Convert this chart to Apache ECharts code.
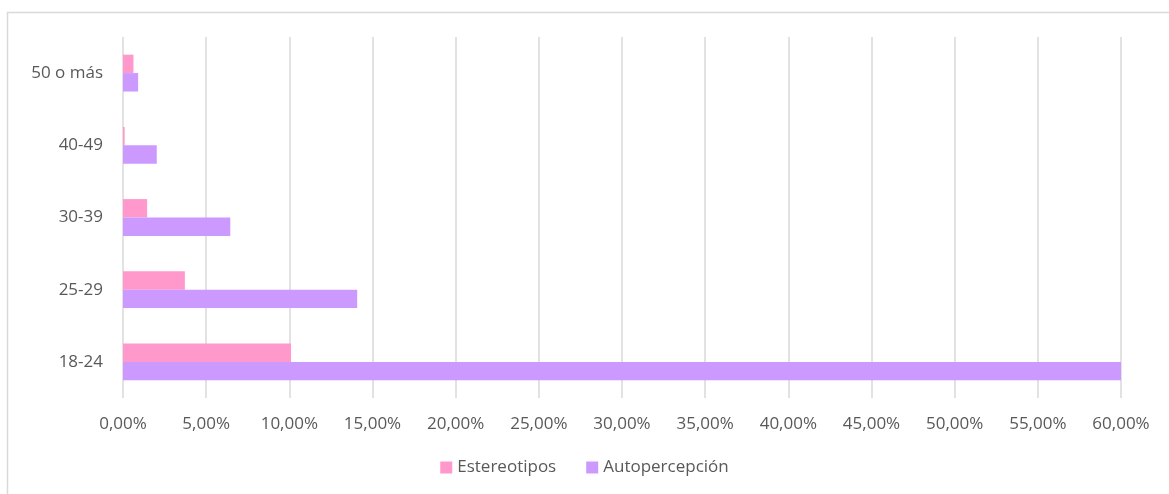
<!DOCTYPE html>
<html>
<head>
    <meta charset="UTF-8">
    <title>Estereotipos y autopercepción por edad</title>
    <style>
        html, body { margin: 0; padding: 0; background: #fff; }
        #main { width: 1169px; height: 494px; }
    </style>
</head>
<body>
<div id="main"></div>
<script src="https://cdn.jsdelivr.net/npm/echarts@6/dist/echarts.min.js"></script>
<script type="text/javascript">
    // categories, bottom to top
    var ageGroups = ['18-24', '25-29', '30-39', '40-49', '50 o más'];
    // percentages
    var estereotipos = [10.1, 3.72, 1.45, 0.1, 0.63];
    var autopercepcion = [60.0, 14.08, 6.45, 2.03, 0.91];

    var labelFont = '"Open Sans", "Noto Sans", sans-serif';
    var myChart = echarts.init(document.getElementById('main'));

    var option = {
        animation: false,
        // light frame around the chart area
        graphic: [{
            type: 'rect',
            shape: { x: 7.5, y: 12.5, width: 1200, height: 500 },
            style: { fill: 'none', stroke: '#d9d9d9', lineWidth: 1.5 }
        }],
        legend: {
            bottom: 13,
            left: 'center',
            itemWidth: 12,
            itemHeight: 12,
            itemGap: 30,
            itemStyle: { borderWidth: 0 },
            icon: 'rect',
            textStyle: { color: '#595959', fontSize: 17, fontFamily: labelFont },
            data: ['Estereotipos', 'Autopercepción']
        },
        grid: {
            left: 123,
            right: 48,
            top: 37,
            bottom: 96
        },
        xAxis: {
            type: 'value',
            min: 0,
            max: 60,
            interval: 5,
            axisLine: { show: false },
            axisTick: { show: false },
            axisLabel: {
                color: '#595959',
                fontSize: 17,
                fontFamily: labelFont,
                margin: 18,
                formatter: function (v) {
                    return v.toFixed(2).replace('.', ',') + '%';
                }
            },
            splitLine: { lineStyle: { color: '#d9d9d9', width: 1.5 } }
        },
        yAxis: {
            type: 'category',
            data: ageGroups,
            axisLine: { show: false },
            axisTick: { show: false },
            axisLabel: {
                color: '#595959',
                fontSize: 17,
                fontFamily: labelFont,
                margin: 20,
                padding: [4, 0, 0, 0]
            }
        },
        series: [
            {
                name: 'Estereotipos',
                type: 'bar',
                data: estereotipos,
                barGap: '0%',
                barCategoryGap: '49%',
                itemStyle: { color: '#ff99cc' }
            },
            {
                name: 'Autopercepción',
                type: 'bar',
                data: autopercepcion,
                barGap: '0%',
                barCategoryGap: '49%',
                itemStyle: { color: '#cc99ff' }
            }
        ]
    };
    myChart.setOption(option);
</script>
</body>
</html>
